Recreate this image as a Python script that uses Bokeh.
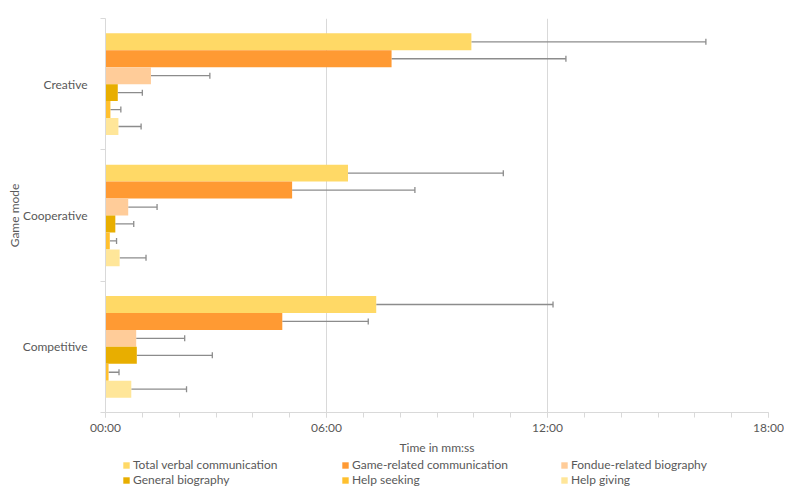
from bokeh.plotting import figure
from bokeh.layouts import column
from bokeh.models import (ColumnDataSource, FixedTicker, Whisker, TeeHead,
                          Legend, LegendItem, Range1d)
from bokeh.embed import file_html
from bokeh.resources import INLINE

# ---- data (seconds) ----
modes = ["Creative", "Cooperative", "Competitive"]  # top to bottom
series = ["Total verbal communication", "Game-related communication",
          "Fondue-related biography", "General biography",
          "Help seeking", "Help giving"]
colors = ["#FFD966", "#FF9A33", "#FFCC99", "#E8AE00", "#FFC02E", "#FFE699"]

total_mean = [596, 395, 441]
total_sd = [382, 253, 288]
game_mean = [466, 304, 288]
game_sd = [284, 200, 140]
fondue_mean = [74, 37, 50]
fondue_sd = [96, 47, 79]
general_mean = [20, 16, 51]
general_sd = [40, 30, 123]
seek_mean = [8, 7, 5]
seek_sd = [17, 11, 17]
give_mean = [21, 23, 42]
give_sd = [37, 43, 90]

tick_values = [0, 360, 720, 1080]
tick_labels = ["00:00", "06:00", "12:00", "18:00"]

means = [total_mean, game_mean, fondue_mean, general_mean, seek_mean, give_mean]
sds = [total_sd, game_sd, fondue_sd, general_sd, seek_sd, give_sd]

FONT = "Lato"
TXT = "#595959"
GRID = "#D9D9D9"

W = 784
H_MAIN = 457
H_LEG = 30
LEFT, RIGHT = 105, 16

p = figure(width=W, height=H_MAIN, output_backend="svg", toolbar_location=None,
           x_range=Range1d(0, 1080), y_range=Range1d(3, 0),
           min_border_left=LEFT, min_border_right=RIGHT, min_border_top=18,
           min_border_bottom=40)
p.outline_line_color = None
p.background_fill_color = "white"

bar_h = 0.129
for j, (name, col) in enumerate(zip(series, colors)):
    ys = [i + 0.5 + (j - 2.5) * bar_h for i in range(len(modes))]
    src = ColumnDataSource(dict(
        y=ys, mean=means[j],
        upper=[m + s for m, s in zip(means[j], sds[j])]))
    p.hbar(y="y", height=bar_h, left=0, right="mean", source=src,
           fill_color=col, line_color=None)
    w = Whisker(base="y", lower="mean", upper="upper", dimension="width",
                source=src, line_color="#8C8C8C", line_width=1.3,
                upper_head=TeeHead(size=6, line_color="#8C8C8C", line_width=1.3),
                lower_head=None)
    p.add_layout(w)

# x axis
xa = p.xaxis[0]
xa.ticker = FixedTicker(ticks=tick_values, minor_ticks=list(range(0, 1081, 60)))
xa.major_label_overrides = {v: t for v, t in zip(tick_values, tick_labels)}
xa.axis_label = "Time in mm:ss"
xa.axis_line_color = GRID
xa.major_tick_line_color = GRID
xa.minor_tick_line_color = GRID
xa.major_tick_out = 5
xa.major_tick_in = 0
xa.minor_tick_out = 5
xa.minor_tick_in = 0
xa.major_label_standoff = 2
xa.axis_label_standoff = 2

# y axis
ya = p.yaxis[0]
ya.ticker = FixedTicker(ticks=[i + 0.5 for i in range(len(modes))],
                        minor_ticks=list(range(len(modes) + 1)))
ya.major_label_overrides = {i + 0.5: m for i, m in enumerate(modes)}
ya.axis_label = "Game mode"
ya.axis_line_color = GRID
ya.major_tick_line_color = None
ya.major_tick_out = 0
ya.major_tick_in = 0
ya.minor_tick_line_color = GRID
ya.minor_tick_out = 5
ya.minor_tick_in = 0
ya.major_label_standoff = 13
ya.axis_label_standoff = -2

for ax in (xa, ya):
    ax.major_label_text_font = FONT
    ax.major_label_text_font_size = "12px"
    ax.major_label_text_color = TXT
    ax.axis_label_text_font = FONT
    ax.axis_label_text_font_size = "12px"
    ax.axis_label_text_color = TXT
    ax.axis_label_text_font_style = "normal"

p.xgrid.ticker = FixedTicker(ticks=tick_values)
p.xgrid.grid_line_color = GRID
p.ygrid.grid_line_color = None

# ---- legend strip (proxy glyphs kept outside the visible range) ----
lg = figure(width=W, height=H_LEG, output_backend="svg", toolbar_location=None,
            x_range=Range1d(0, 1), y_range=Range1d(0, 1),
            x_axis_type=None, y_axis_type=None,
            min_border_left=LEFT, min_border_right=RIGHT, min_border_top=0,
            min_border_bottom=0)
lg.outline_line_color = None
lg.xgrid.visible = False
lg.ygrid.visible = False
leg_renderers = []
for col in colors:
    leg_renderers.append(lg.hbar(y=[-5], height=0.1, left=[0], right=[1],
                                 fill_color=col, line_color=None))

legend = Legend(items=[LegendItem(label=s, renderers=[r])
                       for s, r in zip(series, leg_renderers)],
                orientation="horizontal", ncols=3,
                location=(17, 0), padding=0, margin=0, spacing=0,
                glyph_width=8, glyph_height=8, label_standoff=3,
                label_width=208, label_height=12,
                label_text_font=FONT, label_text_font_size="12px",
                label_text_color=TXT, border_line_color=None,
                background_fill_alpha=0)
lg.add_layout(legend)

layout = column(p, lg, spacing=0)
open("out.html", "w").write(file_html(layout, INLINE))
